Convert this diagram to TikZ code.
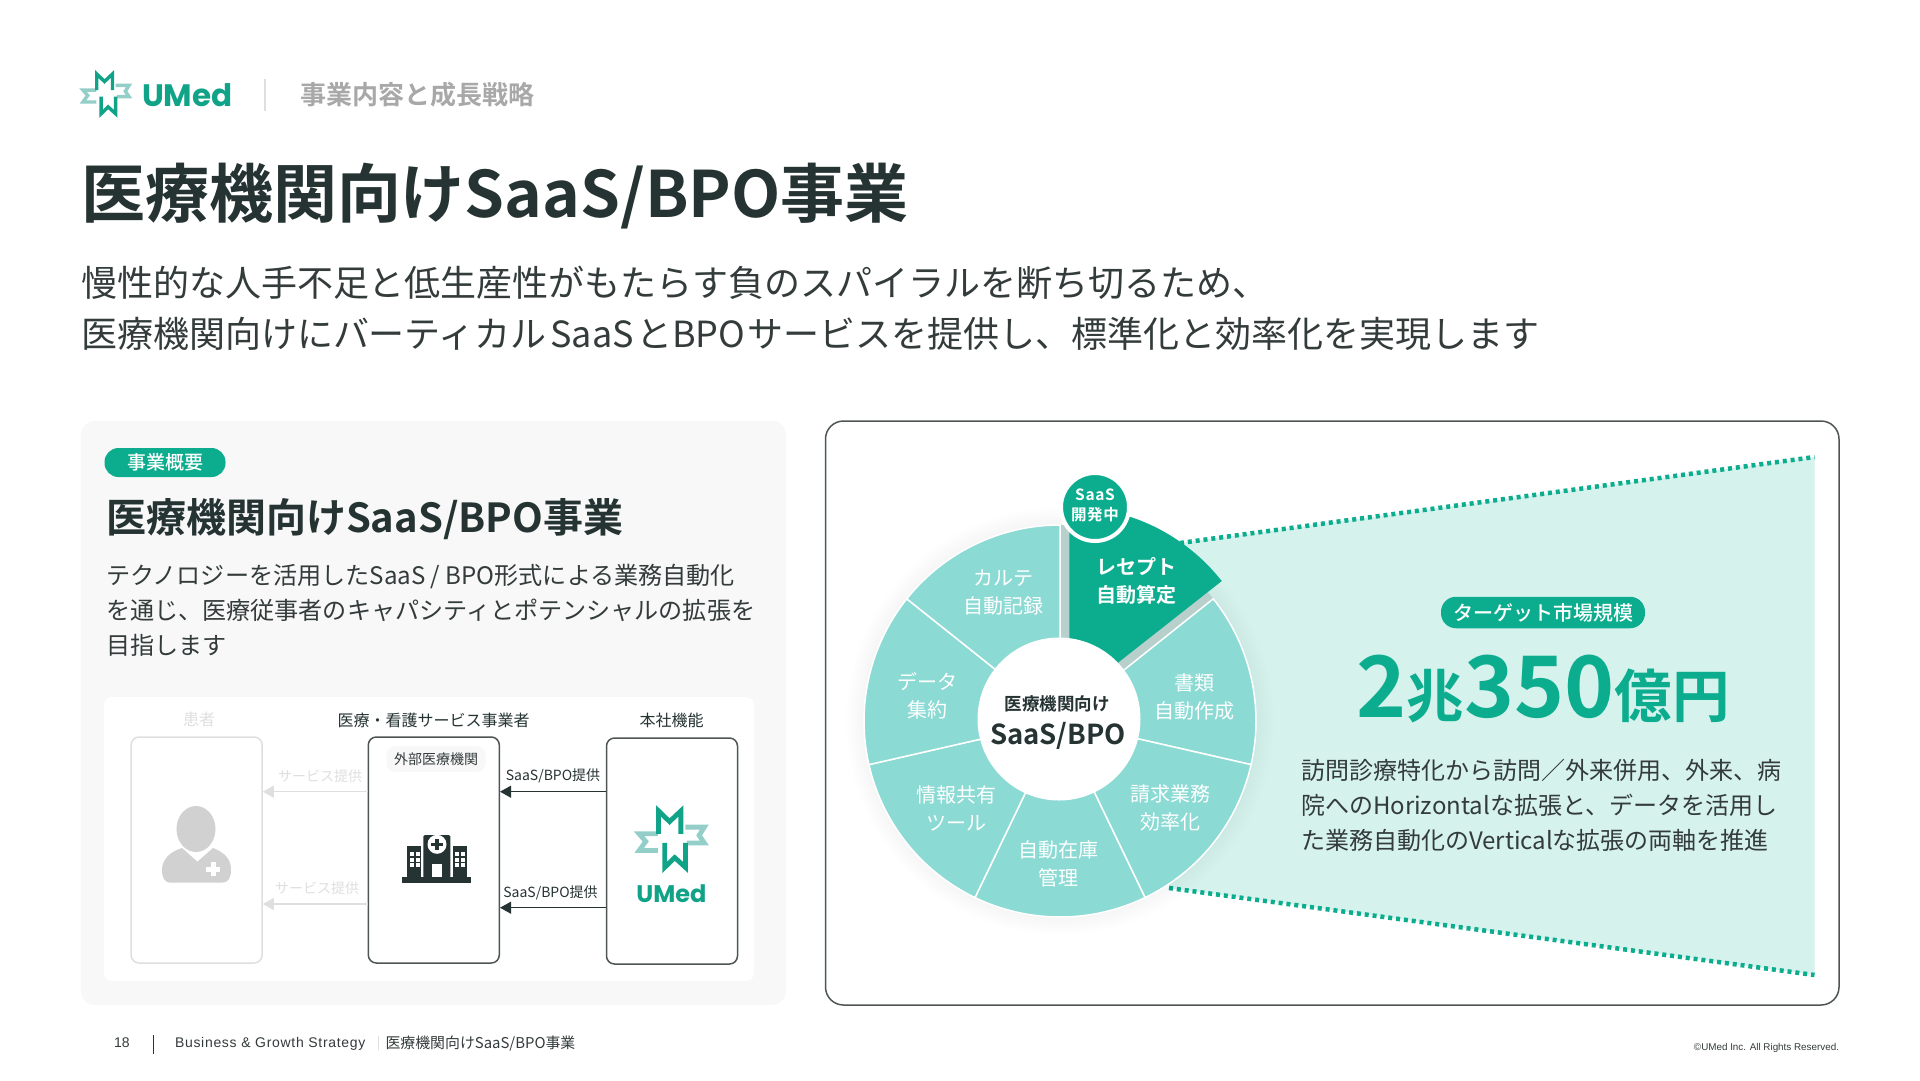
\documentclass[tikz,border=0pt]{standalone}
\usepackage{fontspec}
\setmainfont{Noto Sans CJK JP}[BoldFont={Noto Sans CJK JP Medium}]
\newfontfamily\heavy{Noto Sans CJK JP Bold}
\newfontfamily\logofont{Poppins}
\newfontfamily\footfont[LetterSpace=5]{Liberation Sans}
\newfontfamily\copyfont{Liberation Sans}
\newfontfamily\badgefont[LetterSpace=4]{Noto Sans CJK JP Bold}
\usetikzlibrary{arrows.meta}
\newcommand{\pxf}[1]{\fontsize{#1pt}{#1pt}\selectfont}
\definecolor{ink}{HTML}{253332}
\definecolor{body}{HTML}{333B3B}
\definecolor{teal}{HTML}{0CAD8E}
\definecolor{logoA}{HTML}{11A388}
\definecolor{logoB}{HTML}{93CFC8}
\definecolor{mint}{HTML}{8CDAD4}
\definecolor{pale}{HTML}{D6F2ED}
\definecolor{panel}{HTML}{F8F8F8}
\definecolor{faint}{HTML}{DFDFDF}
\definecolor{frame}{HTML}{4F5555}
\tikzset{
  txt/.style={inner sep=0pt,outer sep=0pt},
  lefttxt/.style={txt,anchor=west,align=left},
  wheeltxt/.style={txt,align=center,text=white,font=\fontsize{20pt}{28pt}\selectfont},
  actor/.style={rounded corners=8pt,inner sep=0pt,minimum width=131pt,minimum height=226pt,fill=white},
  tag/.style={txt,fill=teal,rounded corners=14pt,text=white},
  flow/.style={draw=ink,line width=1.2pt,-{Triangle[length=11pt,width=12pt]}},
  flowgrey/.style={draw=faint,line width=1.2pt,-{Triangle[length=11pt,width=12pt,fill=faint]}},
  dots/.style={draw=teal,line width=4.5pt,dash pattern=on 4pt off 3.9pt},
}
\newcommand{\umedlogo}[4]{%
  \begin{scope}[shift={(#1,#2)},scale=#3,line width=#4pt,miter limit=6]
    \draw[logoB] (45,-40)--(107,-40)--(90,-13)--(107,12)--(50,12);
    \draw[logoB] (-45,-18)--(-107,-18)--(-85,7)--(-107,37)--(-45,37);
    \draw[logoA] (-43,-18)--(-43,-93)--(-7,-58)--(30,-93)--(30,-18);
    \draw[logoA] (-23,12)--(-23,92)--(10,60)--(45,92)--(45,12);
  \end{scope}}
\begin{document}
\begin{tikzpicture}[x=1pt,y=-1pt]
\useasboundingbox (0,0) rectangle (1920,1080);
\fill[white] (0,0) rectangle (1920,1080);
% header
\umedlogo{106}{94}{0.215}{3.4}
\node[txt,anchor=west,text=logoA,font=\logofont\bfseries\pxf{31}] (brand) at (142,95.5) {UMed};
\coordinate (divA) at (265,79); \coordinate (divB) at (265,111);
\draw[faint,line width=2pt] (divA) -- (divB);
\node[lefttxt,text=black!34,font=\heavy\pxf{26}] (section) at (300,95) {事業内容と成長戦略};
\node[lefttxt,text=ink,font=\heavy\pxf{64}] (title) at (81,196) {医療機関向けSaaS/BPO事業};
\node[lefttxt,text=body,font=\pxf{36}] (subA) at (81,283) {慢性的な人手不足と低生産性がもたらす負のスパイラルを断ち切るため、};
\node[lefttxt,text=body,font=\pxf{36}] (subB) at (81,334) {医療機関向けにバーティカル\hspace{3.6pt}SaaS\hspace{2.4pt}と\hspace{0pt}BPO\hspace{1.6pt}サービスを提供し、標準化と効率化を実現します};
% left panel
\fill[panel,rounded corners=14pt] (81,421) rectangle (786,1005);
\fill[white,rounded corners=8pt] (104,697) rectangle (754,981);
\node[tag,minimum width=121pt,minimum height=29pt,font=\bfseries\pxf{19}] (tagA) at (165,462.5) {事業概要};
\node[lefttxt,text=ink,font=\heavy\pxf{40}] (headB) at (106,519) {医療機関向けSaaS/BPO事業};
\node[lefttxt,text=body,font=\pxf{24.1}] (paraA) at (106,576) {テクノロジーを活用したSaaS / BPO形式による業務自動化};
\node[lefttxt,text=body,font=\pxf{24.1}] (paraB) at (106,610) {を通じ、医療従事者のキャパシティとポテンシャルの拡張を};
\node[lefttxt,text=body,font=\pxf{24.1}] (paraC) at (106,645) {目指します};
% actors
\node[txt,text=faint,font=\pxf{16}] (lblP) at (199,719.5) {患者};
\node[txt,text=ink,font=\pxf{16}] (lblE) at (433.5,720) {医療・看護サービス事業者};
\node[txt,text=ink,font=\pxf{16}] (lblH) at (671.6,720) {本社機能};
\node[actor,draw=faint,line width=1.5pt] (patient) at (196.6,850) {};
\node[actor,draw=frame,line width=1.5pt] (ext) at (433.8,850) {};
\node[actor,draw=frame,line width=1.5pt] (hq) at (672,851) {};
\node[txt,fill=panel,rounded corners=9pt,minimum width=99pt,minimum height=26pt,text=body,font=\pxf{14}] (chip) at (436,759) {外部医療機関};
\coordinate (yA) at (0,791.7); \coordinate (yB) at (0,904); \coordinate (yC) at (0,907.7);
\draw[flow] (hq.west |- yA) -- (ext.east |- yA);
\draw[flow] (hq.west |- yC) -- (ext.east |- yC);
\draw[flowgrey] (ext.west |- yA) -- (patient.east |- yA);
\draw[flowgrey] (ext.west |- yB) -- (patient.east |- yB);
\node[txt,text=ink,font=\pxf{14}] (fa) at (553,776) {SaaS/BPO提供};
\node[txt,text=ink,font=\pxf{14}] (fb) at (550.5,893) {SaaS/BPO提供};
\node[txt,text=faint,font=\pxf{14}] (fc) at (320,776) {サービス提供};
\node[txt,text=faint,font=\pxf{14}] (fd) at (317,888) {サービス提供};
% person icon
\fill[black!18] (196,829) ellipse (19.5 and 23);
\fill[black!18] (182,848) -- (197.4,861.7) -- (213,848) .. controls (226,853) and (231,860) .. (231,870)
  .. controls (231,878) and (228,882.7) .. (222,882.7) -- (170,882.7) .. controls (165,882.7) and (162,878) .. (162,870)
  .. controls (162,860) and (169,852) .. (182,848) -- cycle;
\fill[white] (210.5,862) rectangle (215.5,876); \fill[white] (206,866.5) rectangle (220,871.5);
% hospital icon
\fill[ink] (402,877) rectangle (471,882.5);
\fill[ink] (406.7,846) rectangle (421,877);
\fill[ink] (453.3,846) rectangle (467,877);
\fill[ink,rounded corners=1.5pt] (423.3,835) rectangle (450.3,878);
\fill[white] (437,844.3) circle (9.5);
\fill[ink] (435.2,838.5) rectangle (438.8,850.1); \fill[ink] (431.2,842.5) rectangle (442.8,846.1);
\fill[white] (431.7,864.3) rectangle (441.7,877.3);
\foreach \wy in {851.7,857.5,863.3}{
  \foreach \wx in {410,415.5,455,460.5}{ \fill[white] (\wx,\wy) rectangle +(4,4); } }
% hq logo
\umedlogo{671.7}{839.3}{0.305}{4.8}
\node[txt,text=logoA,font=\logofont\bfseries\pxf{24}] (brandB) at (671.5,894) {UMed};
% right panel
\draw[frame,line width=1.5pt,rounded corners=18pt] (825.5,421) rectangle (1839,1005);
\coordinate (tl) at (1180,543); \coordinate (tr) at (1814.5,457);
\coordinate (br) at (1814.5,975); \coordinate (bl) at (1169,888);
\fill[pale] (tl) -- (tr) -- (br) -- (bl) -- cycle;
\draw[dots] (tl) -- (tr);
\draw[dots] (bl) -- (br);
% wheel
\begin{scope}[shift={(1060,721)},x=1pt,y=1pt]
  \foreach \r in {198,200,...,214}{ \fill[black,opacity=0.004] (0,0) circle (\r); }
  \fill[black!14!pale] (0,0) -- (38.57:196) arc (38.57:90:196) -- cycle;
  \foreach \a in {38.57,-12.86,-64.29,-115.71,-167.14,141.43}{
    \pgfmathsetmacro{\b}{\a-51.43}
    \filldraw[fill=mint,draw=white,line width=1.5pt,line join=round] (0,0) -- (\a:196) arc (\a:\b:196) -- cycle;
  }
  \fill[teal] (9.3,20) ++(38.2:194) arc (38.2:90:194) -- (9.3,20) -- cycle;
\end{scope}
\node[circle,fill=white,minimum size=163pt,inner sep=0pt] (hub) at (1059,719) {};
\node[txt,text=ink,font=\heavy\pxf{17.5}] (hubA) at (1057,704) {医療機関向け};
\node[txt,text=ink,font=\heavy\pxf{27.5}] (hubB) at (1058,736) {SaaS/BPO};
\node[circle,fill=teal,draw=white,line width=4pt,minimum size=68pt,inner sep=0pt] (badge) at (1095,507) {};
\node[txt,align=center,text=white,font=\badgefont\fontsize{15.5}{20}\selectfont] (badgeT) at (1095,505.5) {SaaS\\開発中};
\node[wheeltxt,font=\heavy\fontsize{20}{28}\selectfont] (s1) at (1136,581) {レセプト\\自動算定};
\node[wheeltxt] (s2) at (1194,697) {書類\\自動作成};
\node[wheeltxt] (s3) at (1170.7,808) {請求業務\\効率化};
\node[wheeltxt] (s4) at (1058,864) {自動在庫\\管理};
\node[wheeltxt] (s5) at (956.7,808) {情報共有\\ツール};
\node[wheeltxt] (s6) at (927.7,696) {データ\\集約};
\node[wheeltxt] (s7) at (1003,592) {カルテ\\自動記録};
% market
\node[tag,rounded corners=15pt,minimum width=204pt,minimum height=31.5pt,font=\bfseries\pxf{20}] (tagB) at (1543,612.5) {ターゲット市場規模};
\node[txt,anchor=base,text=teal,font=\heavy] (amount) at (1543,717) {\pxf{85}2\pxf{57.5}兆\pxf{85}350\pxf{57.5}億円};
\node[lefttxt,text=body,font=\pxf{24}] (dA) at (1301,770) {訪問診療特化から訪問／外来併用、外来、病};
\node[lefttxt,text=body,font=\pxf{24}] (dB) at (1301,805) {院へのHorizontalな拡張と、データを活用し};
\node[lefttxt,text=body,font=\pxf{24}] (dC) at (1301,840.5) {た業務自動化のVerticalな拡張の両軸を推進};
% footer
\node[txt,text=body,font=\copyfont\pxf{14}] (pg) at (122,1043) {18};
\coordinate (fA) at (153.6,1035); \coordinate (fB) at (153.6,1053.5);
\draw[ink,line width=1pt] (fA) -- (fB);
\node[lefttxt,text=body,font=\footfont\pxf{14}] (ftA) at (175,1044) {Business \& Growth Strategy};
\coordinate (fC) at (378,1036); \coordinate (fD) at (378,1050);
\draw[faint,line width=1pt] (fC) -- (fD);
\node[lefttxt,text=body,font=\pxf{14.9}] (ftB) at (385.5,1044) {医療機関向けSaaS/BPO事業};
\node[txt,anchor=east,text=body,font=\copyfont\pxf{9.85}] (copy) at (1839,1048) {©UMed Inc. All Rights Reserved.};
\end{tikzpicture}
\end{document}
